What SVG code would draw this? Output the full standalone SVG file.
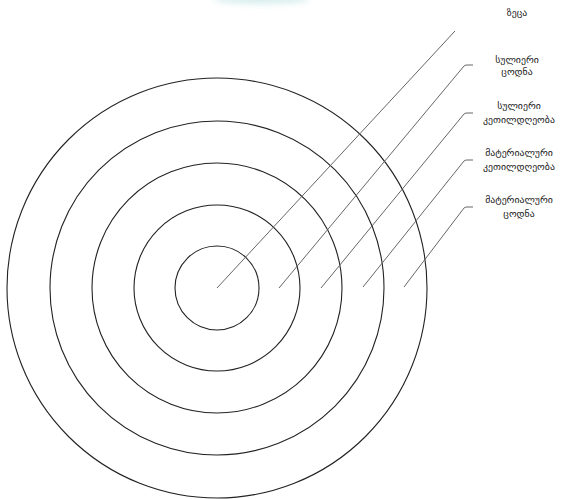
<svg xmlns="http://www.w3.org/2000/svg" width="563" height="499" viewBox="0 0 563 499">
<defs>
<filter id="blur" x="-50%" y="-200%" width="200%" height="500%"><feGaussianBlur stdDeviation="3"/></filter>
</defs>
<style>
.ring{fill:none;stroke:#222;stroke-width:1.1}
.lead{fill:none;stroke:#666;stroke-width:1}
.lbl{font-family:"DejaVu Sans","Noto Sans",sans-serif;font-size:9.8px;fill:#222;text-anchor:middle}
</style>
<rect width="563" height="499" fill="#fff"/>
<ellipse cx="262" cy="-1" rx="48" ry="5" fill="#a8d8d8" opacity="0.45" filter="url(#blur)"/>
<g id="rings">
<circle class="ring" cx="217" cy="288" r="42"/>
<circle class="ring" cx="217" cy="288" r="83"/>
<circle class="ring" cx="217" cy="288" r="125"/>
<circle class="ring" cx="217" cy="288" r="167"/>
<circle class="ring" cx="217" cy="288" r="210"/>
</g>
<g id="connectors">
<path class="lead" d="M217,288 L455,31"/>
<path class="lead" d="M279,288 L464,66 Q465,65 467,65 L473,65"/>
<path class="lead" d="M321,288 L464,114 Q465,113 467,113 L473,113"/>
<path class="lead" d="M363,287 L464,161 Q465,160 467,160 L473,160"/>
<path class="lead" d="M404,287 L464,208 Q465,207 467,207 L473,207"/>
</g>
<g id="label-zeca"><text class="lbl" x="517" y="16">ზეცა</text></g>
<g id="label-sulieri-codna"><text class="lbl" x="517" y="63">სულიერი</text><text class="lbl" x="517" y="75">ცოდნა</text></g>
<g id="label-sulieri-ketildgheoba"><text class="lbl" x="519" y="109">სულიერი</text><text class="lbl" x="519" y="123">კეთილდღეობა</text></g>
<g id="label-materialuri-ketildgheoba"><text class="lbl" x="519" y="156">მატერიალური</text><text class="lbl" x="519" y="170">კეთილდღეობა</text></g>
<g id="label-materialuri-codna"><text class="lbl" x="519" y="203">მატერიალური</text><text class="lbl" x="519" y="217">ცოდნა</text></g>
</svg>
